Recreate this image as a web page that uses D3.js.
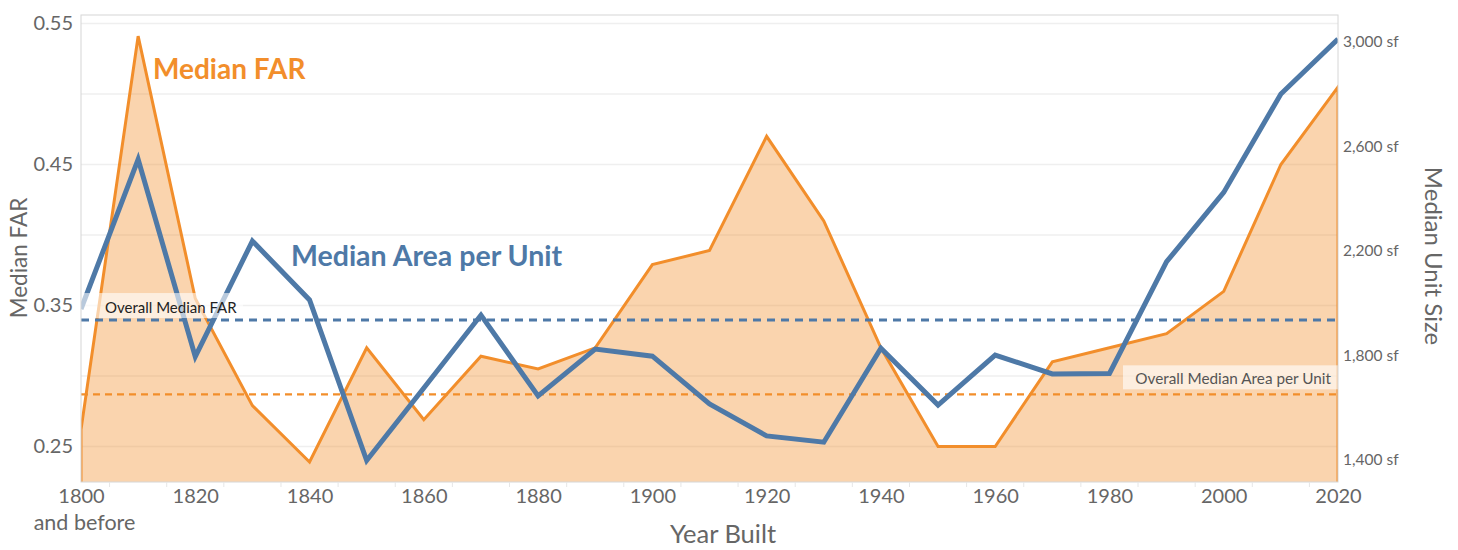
<!DOCTYPE html>
<html>
<head>
<meta charset="utf-8">
<script src="https://cdn.jsdelivr.net/npm/d3@7"></script>
<style>
  html, body { margin: 0; padding: 0; background: #fff; }
  svg { display: block; font-family: Lato, "Open Sans", sans-serif; }
</style>
</head>
<body>
<svg id="chart" width="1458" height="550"></svg>
<script>
// Decades of construction
const years = [1800, 1810, 1820, 1830, 1840, 1850, 1860, 1870, 1880, 1890, 1900,
               1910, 1920, 1930, 1940, 1950, 1960, 1970, 1980, 1990, 2000, 2010, 2020];

// Median floor-area ratio per decade (left axis)
const medianFAR = [0.262, 0.541, 0.355, 0.279, 0.239, 0.320, 0.269, 0.314, 0.305, 0.320, 0.379,
                   0.389, 0.470, 0.410, 0.320, 0.250, 0.250, 0.310, 0.320, 0.330, 0.360, 0.450, 0.505];

// Median area per unit in square feet (right axis)
const medianArea = [1977, 2549, 1795, 2237, 2012, 1398, 1675, 1954, 1645, 1824, 1797,
                    1614, 1492, 1468, 1827, 1610, 1801, 1729, 1731, 2158, 2423, 2799, 3009];

// Overall reference levels
const overallAreaLevel = 1935;   // right axis
const overallFARLevel = 0.287;   // left axis

// Tick labels
const farTicks = [0.25, 0.35, 0.45, 0.55];
const farGrid = [0.25, 0.30, 0.35, 0.40, 0.45, 0.50, 0.55];
const areaTicks = [1400, 1800, 2200, 2600, 3000];
const yearTicks = [1800, 1820, 1840, 1860, 1880, 1900, 1920, 1940, 1960, 1980, 2000, 2020];
const yearMinorTicks = [1805, 1815, 1825, 1835, 1845, 1855, 1865, 1875, 1885, 1895, 1905,
                        1915, 1925, 1935, 1945, 1955, 1965, 1975, 1985, 1995, 2005, 2015];

const ORANGE = "#F28E2B";
const BLUE = "#4E79A7";
const GREY = "#666";

const svg = d3.select("#chart");
const plotL = 81, plotR = 1338, plotT = 15, plotB = 482;

const x = d3.scaleLinear().domain([1800, 2020]).range([plotL, plotR]);
const yL = d3.scaleLinear().domain([0.22482, 0.55603]).range([plotB, plotT]);
const yR = d3.scaleLinear().domain([1315.9, 3101.1]).range([plotB, plotT]);

svg.append("defs").append("clipPath").attr("id", "plot")
  .append("rect").attr("x", plotL).attr("y", plotT).attr("width", plotR - plotL).attr("height", plotB - plotT);

// Horizontal gridlines
svg.append("g").selectAll("line").data(farGrid).join("line")
  .attr("x1", plotL).attr("x2", plotR)
  .attr("y1", d => yL(d)).attr("y2", d => yL(d))
  .attr("stroke", "#efefef").attr("stroke-width", 1.5);

// Median FAR area
const farPts = years.map((yr, i) => ({ yr, v: medianFAR[i] }));
const areaGen = d3.area().x(d => x(d.yr)).y0(plotB + 6).y1(d => yL(d.v));
const g = svg.append("g").attr("clip-path", "url(#plot)");
g.append("path").datum(farPts)
  .attr("d", areaGen)
  .attr("fill", ORANGE).attr("fill-opacity", 0.38)
  .attr("stroke", ORANGE).attr("stroke-width", 3).attr("stroke-linejoin", "miter");

// Reference lines
g.append("line")
  .attr("x1", plotL).attr("x2", plotR)
  .attr("y1", yR(overallAreaLevel)).attr("y2", yR(overallAreaLevel))
  .attr("stroke", BLUE).attr("stroke-width", 3).attr("stroke-dasharray", "8,6");
g.append("line")
  .attr("x1", plotL).attr("x2", plotR)
  .attr("y1", yL(overallFARLevel)).attr("y2", yL(overallFARLevel))
  .attr("stroke", ORANGE).attr("stroke-width", 2.2).attr("stroke-dasharray", "7,5");

// Median area per unit line
const areaPts = years.map((yr, i) => ({ yr, v: medianArea[i] }));
g.append("path").datum(areaPts)
  .attr("d", d3.line().x(d => x(d.yr)).y(d => yR(d.v)))
  .attr("fill", "none").attr("stroke", BLUE).attr("stroke-width", 5)
  .attr("stroke-linejoin", "miter");

// Reference labels
const refA = yR(overallAreaLevel);
svg.append("rect").attr("x", plotL).attr("y", refA - 27).attr("width", 162).attr("height", 25)
  .attr("fill", "#fff").attr("fill-opacity", 0.6);
svg.append("text").attr("x", 105).attr("y", refA - 7)
  .attr("font-size", 15).attr("fill", "#222").text("Overall Median FAR");

const refF = yL(overallFARLevel);
svg.append("rect").attr("x", 1123).attr("y", refF - 29).attr("width", plotR - 1123).attr("height", 24)
  .attr("fill", "#fff").attr("fill-opacity", 0.6);
svg.append("text").attr("x", 1331).attr("y", refF - 10).attr("text-anchor", "end")
  .attr("font-size", 15.3).attr("fill", "#555").text("Overall Median Area per Unit");

// Frame
svg.append("rect").attr("x", plotL).attr("y", plotT).attr("width", plotR - plotL).attr("height", plotB - plotT)
  .attr("fill", "none").attr("stroke", "#d6d6d6").attr("stroke-width", 1);

// Minor decade ticks under the axis
svg.append("g").selectAll("line").data(yearMinorTicks).join("line")
  .attr("x1", d => x(d)).attr("x2", d => x(d))
  .attr("y1", plotB).attr("y2", plotB + 5)
  .attr("stroke", "#e6e6e6").attr("stroke-width", 1);

// Axes
const axL = svg.append("g").attr("transform", `translate(${plotL},0)`)
  .call(d3.axisLeft(yL).tickValues(farTicks).tickFormat(d3.format(".2f")).tickSize(0).tickPadding(8));
const axR = svg.append("g").attr("transform", `translate(${plotR},0)`)
  .call(d3.axisRight(yR).tickValues(areaTicks).tickFormat(d => d3.format(",")(d) + " sf").tickSize(0).tickPadding(5));
const axB = svg.append("g").attr("transform", `translate(0,${plotB})`)
  .call(d3.axisBottom(x).tickValues(yearTicks).tickFormat(d3.format("d")).tickSize(0).tickPadding(7));

[axL, axR, axB].forEach(a => {
  a.select(".domain").remove();
  a.selectAll("text").attr("fill", GREY).style("font-family", "Lato, 'Open Sans', sans-serif");
});
axL.selectAll("text").attr("font-size", 20);
axB.selectAll("text").attr("font-size", 20);
axR.selectAll("text").attr("font-size", 15.5);

axB.selectAll(".tick").filter(d => d === 1800).select("text")
  .append("tspan").attr("x", 3).attr("dy", "1.25em").attr("font-size", 21.5).text("and before");

// Axis titles
svg.append("text").attr("transform", `translate(27,258) rotate(-90)`)
  .attr("text-anchor", "middle").attr("font-size", 22.5).attr("fill", GREY).text("Median FAR");
svg.append("text").attr("transform", `translate(1425,256) rotate(90)`)
  .attr("text-anchor", "middle").attr("font-size", 24).attr("fill", GREY).text("Median Unit Size");
svg.append("text").attr("x", 723).attr("y", 543)
  .attr("text-anchor", "middle").attr("font-size", 25.5).attr("fill", GREY).text("Year Built");

// Series labels
svg.append("text").attr("x", 153).attr("y", 79)
  .attr("font-size", 28).attr("font-weight", "bold").attr("fill", ORANGE).text("Median FAR");
svg.append("text").attr("x", 291).attr("y", 266)
  .attr("font-size", 28.5).attr("font-weight", "bold").attr("fill", BLUE).text("Median Area per Unit");
</script>
</body>
</html>
